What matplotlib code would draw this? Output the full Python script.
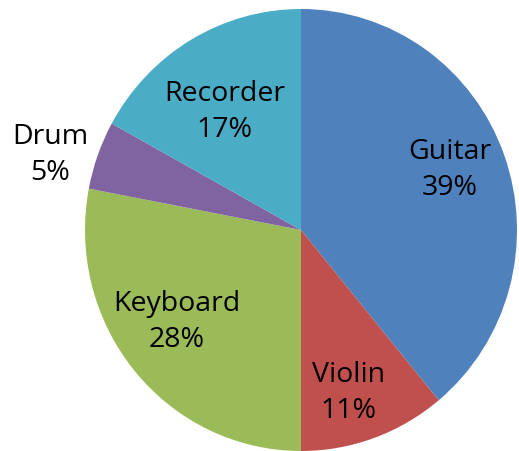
import numpy as np
import matplotlib
matplotlib.use('Agg')
import matplotlib.pyplot as plt

names = ['Guitar', 'Violin', 'Keyboard', 'Drum', 'Recorder']
shares = [39, 11, 28, 5, 17]
colours = ['#4F81BD', '#C0504D', '#9BBB59', '#8064A2', '#4BACC6']
label_dist = [0.743, 0.765, 0.707, 1.212, 0.643]
label_turn = [2.0, -3.0, -3.9, 3.3, 2.6]

W, H = 519, 452
cx, cy, rx, ry = 301, 231, 216, 221

fig = plt.figure(figsize=(W/100, H/100), dpi=100)
ax = fig.add_axes([0, 0, 1, 1])
wedges, _ = ax.pie(shares, colors=colours, startangle=90, counterclock=False,
                   radius=1, wedgeprops=dict(linewidth=0))
ax.set_xlim(-cx/rx, (W-cx)/rx)
ax.set_ylim(-(H-cy)/ry, cy/ry)
ax.set_aspect('auto')
ax.axis('off')

for w, name, v, d, t in zip(wedges, names, shares, label_dist, label_turn):
    mid = np.deg2rad((w.theta1 + w.theta2)/2 + t)
    ax.text(d*np.cos(mid), d*np.sin(mid), '%s\n%d%%' % (name, v),
            ha='center', va='center', fontsize=20.5, family='Open Sans',
            linespacing=1.4, color='black')

fig.savefig('out.png', dpi=100)
